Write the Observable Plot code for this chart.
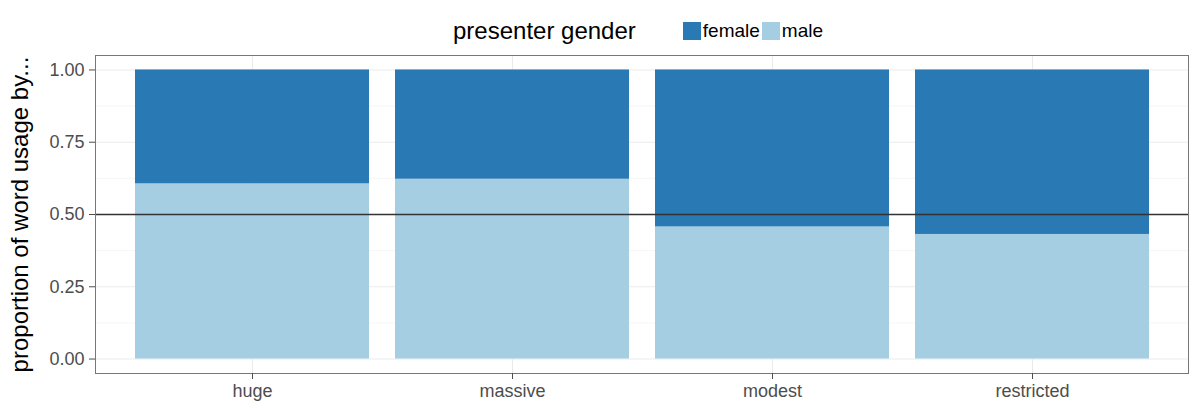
<!DOCTYPE html>
<html>
<head>
<meta charset="utf-8">
<script src="https://cdn.jsdelivr.net/npm/d3@7"></script>
<script src="https://cdn.jsdelivr.net/npm/@observablehq/plot@0.6"></script>
<style>
  html, body { margin: 0; padding: 0; background: #fff; }
  body { font-family: "Liberation Sans", Arial, Helvetica, sans-serif; }
  #wrap { position: relative; width: 1200px; height: 408px; overflow: hidden; background: #fff; }
  #legend { position: absolute; left: 453px; top: 0; height: 62px; display: flex; align-items: center; white-space: nowrap; }
  #legend .title { font-size: 24px; color: #000; margin-right: 47px; }
  #legend .key { width: 18px; height: 18px; margin-right: 2px; }
  #legend .lab { font-size: 19px; color: #000; margin-right: 2px; }
  #chart { position: absolute; left: 0; top: 50px; }
</style>
</head>
<body>
<div id="wrap">
  <div id="legend"></div>
  <div id="chart"></div>
</div>
<script>
// ---- data ----
const words = ["huge", "massive", "modest", "restricted"];
const maleShare = [0.606, 0.622, 0.457, 0.431];
const genders = ["female", "male"];
const genderColors = ["#2879b4", "#a6cee3"];
const legendTitle = "presenter gender";
const yTitle = "proportion of word usage by...";
const yTicks = [0, 0.25, 0.5, 0.75, 1];
const yMinor = [0.125, 0.375, 0.625, 0.875];
const refLine = [0.5];

// ---- legend ----
const legend = document.getElementById("legend");
const t = document.createElement("span");
t.className = "title"; t.textContent = legendTitle; legend.appendChild(t);
genders.forEach((g, i) => {
  const k = document.createElement("span");
  k.className = "key"; k.style.background = genderColors[i]; legend.appendChild(k);
  const l = document.createElement("span");
  l.className = "lab"; l.textContent = g; legend.appendChild(l);
});

// ---- table ----
const rows = words.map((w, i) => ({word: w, male: maleShare[i], female: 1 - maleShare[i]}));

const chart = Plot.plot({
  width: 1200,
  height: 358,
  marginTop: 5,
  marginBottom: 35,
  marginLeft: 95,
  marginRight: 12,
  style: {fontFamily: "'Liberation Sans', Arial, sans-serif", background: "#fff", overflow: "visible"},
  x: {type: "band", domain: words, paddingInner: 0.1, paddingOuter: 0.15, label: null},
  y: {domain: [-0.05, 1.05], label: null},
  marks: [
    Plot.ruleY(yMinor, {y: d => d, stroke: "#f2f2f2", strokeWidth: 0.7}),
    Plot.ruleY(yTicks, {y: d => d, stroke: "#ebebeb", strokeWidth: 1.1}),
    Plot.gridX({stroke: "#ebebeb", strokeOpacity: 1, strokeWidth: 1.1}),
    Plot.barY(rows, {x: "word", y1: 0, y2: "male", fill: genderColors[1]}),
    Plot.barY(rows, {x: "word", y1: "male", y2: 1, fill: genderColors[0]}),
    Plot.ruleY(refLine, {y: d => d, stroke: "#333", strokeWidth: 1.3}),
    Plot.frame({stroke: "#777", strokeWidth: 1}),
    Plot.axisY({ticks: yTicks, tickFormat: d3.format(".2f"), tickSize: 6, tickPadding: 5, fontSize: 18, color: "#4d4d4d", label: null}),
    Plot.axisX({tickSize: 6, tickPadding: 5, fontSize: 18, color: "#4d4d4d", label: null}),
    Plot.text([yTitle], {text: d => d, frameAnchor: "left", textAnchor: "middle", lineAnchor: "middle", dx: -75, rotate: -90, fontSize: 24, fill: "#000"})
  ]
});
document.getElementById("chart").appendChild(chart);
</script>
</body>
</html>
